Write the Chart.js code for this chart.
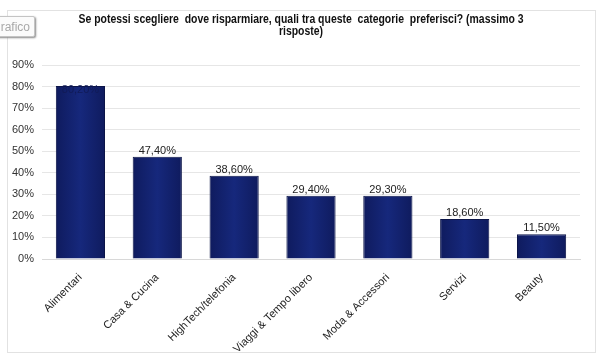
<!DOCTYPE html>
<html>
<head>
<meta charset="utf-8">
<script src="https://cdn.jsdelivr.net/npm/chart.js@4.4.1/dist/chart.umd.min.js"></script>
<style>
  html, body { margin: 0; padding: 0; background: #fff; overflow: hidden; }
  #wrap { position: relative; width: 600px; height: 360px; }
  #btn {
    position: absolute; left: -10px; top: 16px; width: 45px; height: 21px;
    border: 1px solid #c4c4c4; border-radius: 2px; background: #fbfbfb;
    box-shadow: 1px 1px 2px #888; font: 12px "Liberation Sans", Arial, sans-serif;
    color: #a8a8a8; line-height: 20px; text-align: right; padding-right: 4px; box-sizing: border-box;
  }
</style>
</head>
<body>
<div id="wrap">
  <canvas id="grafico" width="600" height="360"></canvas>
  <div id="btn">Grafico</div>
</div>
<script>
const categorie = ['Alimentari', 'Casa & Cucina', 'HighTech/telefonia', 'Viaggi & Tempo libero', 'Moda & Accessori', 'Servizi', 'Beauty'];
const valori = [80.2, 47.4, 38.6, 29.4, 29.3, 18.6, 11.5];
const etichette = ['80,20%', '47,40%', '38,60%', '29,40%', '29,30%', '18,60%', '11,50%'];
const titolo = ['Se potessi scegliere  dove risparmiare, quali tra queste  categorie  preferisci? (massimo 3', 'risposte)'];

const cornice = {
  id: 'cornice',
  beforeDraw(chart) {
    const c = chart.ctx;
    c.save();
    c.strokeStyle = '#e2e2e2';
    c.lineWidth = 1;
    c.strokeRect(7.5, 10.5, 588, 342);
    // titolo in carattere stretto
    c.fillStyle = '#111';
    c.font = 'bold 12px "Liberation Sans", Arial, sans-serif';
    c.textAlign = 'center';
    c.textBaseline = 'middle';
    c.translate(301, 0);
    c.scale(0.87, 1);
    c.fillText(titolo[0], 0, 20);
    c.fillText(titolo[1], 0, 32);
    c.restore();
  }
};

const valoriSopra = {
  id: 'valoriSopra',
  afterDatasetsDraw(chart) {
    const c = chart.ctx;
    const meta = chart.getDatasetMeta(0);
    c.save();
    c.font = '11px "Liberation Sans", Arial, sans-serif';
    c.textAlign = 'center';
    c.textBaseline = 'middle';
    meta.data.forEach((bar, i) => {
      if (i === 0) {
        c.fillStyle = '#111b58';
        c.fillText(etichette[i], bar.x, bar.y + 4);
      } else {
        c.fillStyle = '#222';
        c.fillText(etichette[i], bar.x, bar.y - 6);
      }
    });
    c.restore();
  }
};

function sfumatura(ctx) {
  const el = ctx.chart.getDatasetMeta(0).data[ctx.dataIndex];
  if (!el || !el.width) return '#14257a';
  const g = ctx.chart.ctx.createLinearGradient(el.x - el.width / 2, 0, el.x + el.width / 2, 0);
  g.addColorStop(0, '#0f1b5e');
  g.addColorStop(0.5, '#16287c');
  g.addColorStop(1, '#0f1b5e');
  return g;
}

const grafico = new Chart(document.getElementById('grafico'), {
  type: 'bar',
  data: {
    labels: categorie,
    datasets: [{
      data: valori,
      backgroundColor: sfumatura,
      borderColor: '#0b1448',
      borderWidth: 1,
      categoryPercentage: 0.64,
      barPercentage: 1
    }]
  },
  options: {
    responsive: false,
    animation: false,
    layout: { padding: { left: 0, right: 20, top: 65, bottom: 0 } },
    plugins: {
      legend: { display: false },
      tooltip: { enabled: false },
      title: { display: false }
    },
    scales: {
      x: {
        grid: { display: false },
        border: { display: true, color: '#d8d8d8' },
        ticks: {
          minRotation: 45, maxRotation: 45, color: '#222', padding: 4,
          font: { family: '"Liberation Sans", Arial, sans-serif', size: 11 }
        },
        afterFit(s) { s.height = 101; }
      },
      y: {
        min: 0, max: 90,
        grid: { color: '#e6e6e6', drawTicks: false },
        border: { display: false },
        ticks: {
          stepSize: 10, color: '#333', padding: 8,
          font: { family: '"Liberation Sans", Arial, sans-serif', size: 11 },
          callback: v => v + '%'
        },
        afterFit(s) { s.width = 42; }
      }
    }
  },
  plugins: [cornice, valoriSopra]
});
grafico.update();
</script>
</body>
</html>
